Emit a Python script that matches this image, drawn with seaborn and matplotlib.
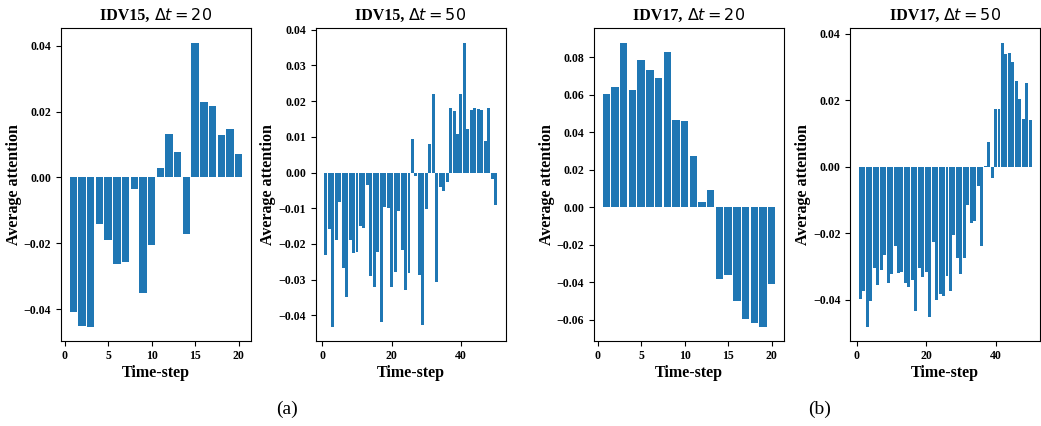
import numpy as np
import pandas as pd
import matplotlib
matplotlib.use("Agg")
import matplotlib.pyplot as plt
from matplotlib.offsetbox import TextArea, HPacker, AnchoredOffsetbox
import seaborn as sns

# time steps
steps_20 = list(range(1, 21))
steps_50 = list(range(1, 51))

# average attention per time step
idv15_dt20 = [-0.0408, -0.0450, -0.0453, -0.0141, -0.0189, -0.0262, -0.0256, -0.0034,
              -0.0350, -0.0204, 0.0028, 0.0132, 0.0077, -0.0171, 0.0410, 0.0230,
              0.0216, 0.0128, 0.0148, 0.0071]

idv15_dt50 = [-0.0232, -0.0159, -0.0431, -0.0190, -0.0083, -0.0268, -0.0347, -0.0190,
              -0.0226, -0.0223, -0.0150, -0.0156, -0.0036, -0.0290, -0.0319, -0.0223,
              -0.0417, -0.0097, -0.0100, -0.0321, -0.0279, -0.0109, -0.0218, -0.0330,
              -0.0282, 0.0093, -0.0010, -0.0288, -0.0428, -0.0103, 0.0081, 0.0219,
              -0.0305, -0.0041, -0.0052, -0.0027, 0.0182, 0.0171, 0.0109, 0.0219,
              0.0364, 0.0121, 0.0174, 0.0182, 0.0177, 0.0174, 0.0087, 0.0182,
              -0.0019, -0.0092]

idv17_dt20 = [0.0605, 0.0642, 0.0878, 0.0627, 0.0786, 0.0733, 0.0690, 0.0828,
              0.0467, 0.0462, 0.0271, 0.0027, 0.0090, -0.0380, -0.0361, -0.0497,
              -0.0593, -0.0614, -0.0635, -0.0409]

idv17_dt50 = [-0.0397, -0.0373, -0.0480, -0.0403, -0.0304, -0.0355, -0.0310, -0.0265,
              -0.0349, -0.0322, -0.0238, -0.0319, -0.0316, -0.0349, -0.0361, -0.0340,
              -0.0433, -0.0304, -0.0331, -0.0316, -0.0451, -0.0226, -0.0400, -0.0382,
              -0.0388, -0.0328, -0.0373, -0.0205, -0.0274, -0.0322, -0.0274, -0.0115,
              -0.0169, -0.0163, -0.0058, -0.0238, 0.0002, 0.0074, -0.0034, 0.0172,
              0.0172, 0.0373, 0.0338, 0.0341, 0.0316, 0.0256, 0.0202, 0.0144,
              0.0250, 0.0141]

fault_names = ["IDV15", "IDV15", "IDV17", "IDV17"]
windows = ["20", "50", "20", "50"]

plt.rcParams['font.family'] = ['Liberation Serif', 'DejaVu Serif']

fig = plt.figure(figsize=(10.41, 4.26), dpi=100)

lefts = [0.0586, 0.3033, 0.5706, 0.8168]
panels = [(steps_20, idv15_dt20), (steps_50, idv15_dt50),
          (steps_20, idv17_dt20), (steps_50, idv17_dt50)]

for i, (steps, vals) in enumerate(panels):
    ax = fig.add_axes([lefts[i], 0.2002, 0.1825, 0.7333])
    df = pd.DataFrame({'step': steps, 'att': vals})
    sns.barplot(data=df, x='step', y='att', native_scale=True, color='#1f77b4',
                saturation=1, width=0.85, linewidth=0, errorbar=None, ax=ax)
    if len(steps) == 20:
        ax.set_xticks([0, 5, 10, 15, 20])
    else:
        ax.set_xticks([0, 20, 40])
    ax.set_xlabel('Time-step', fontsize=11.5, fontweight='bold', labelpad=2)
    ax.set_ylabel('Average attention', fontsize=11.5, fontweight='bold', labelpad=1.5)
    ax.tick_params(labelsize=8.5)
    for lab in ax.get_xticklabels() + ax.get_yticklabels():
        lab.set_fontweight('bold')

    # title: bold serif name + regular mathtext window
    name = TextArea(fault_names[i] + ", ",
                    textprops=dict(fontsize=11.5, fontweight='bold'))
    math = TextArea("$\\Delta t = " + windows[i] + "$",
                    textprops=dict(fontsize=11.5, fontweight='normal'))
    box = HPacker(children=[name, math], align='baseline', pad=0, sep=0)
    anchored = AnchoredOffsetbox(loc='lower center', child=box, pad=0, borderpad=0,
                                 frameon=False, bbox_to_anchor=(0.5, 1.015),
                                 bbox_transform=ax.transAxes)
    ax.add_artist(anchored)

fig.text(0.276, 0.038, '(a)', fontsize=14, ha='center', va='center')
fig.text(0.787, 0.038, '(b)', fontsize=14, ha='center', va='center')

fig.savefig('out.png', dpi=100)
